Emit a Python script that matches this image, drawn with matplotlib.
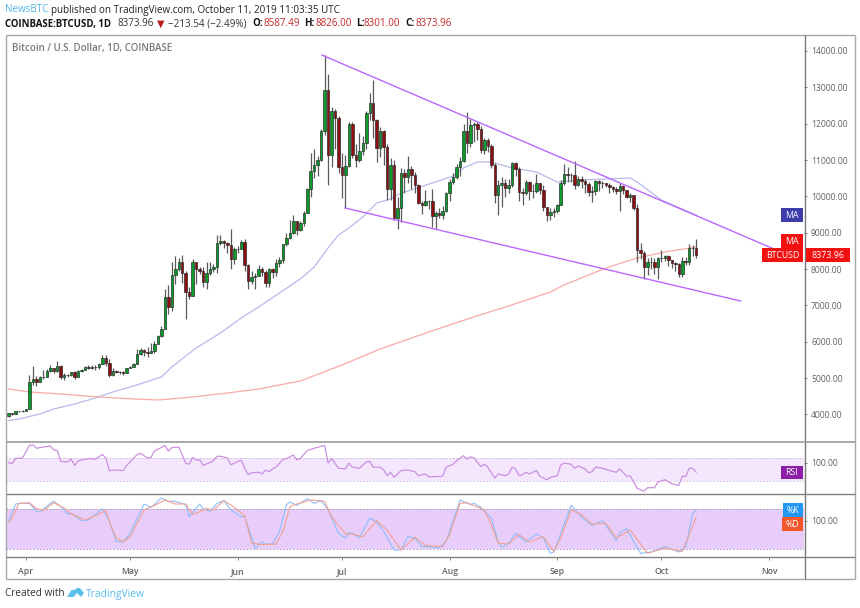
import matplotlib
matplotlib.use("Agg")
import matplotlib.pyplot as plt
from matplotlib.patches import Rectangle, Polygon
from matplotlib.lines import Line2D

plt.rcParams['font.family'] = ['Open Sans', 'DejaVu Sans']

W, H = 860, 608

# ---- candle data, day 0 = 1 Apr 2019, first candle 27 Mar
first_open = 3950
mar_c = [4030, 4020, 4090, 4090, 4100]
mar_h = [4040, 4040, 4100, 4105, 4110]
mar_l = [3940, 3990, 4010, 4060, 4080]
apr_c = [4140, 4900, 4970, 4905, 5040, 5045, 5190, 5280, 5190, 5330, 5040, 5085, 5075, 5165, 5040, 5205, 5235, 5295, 5280, 5320, 5295, 5400, 5560, 5430, 5090, 5190, 5170, 5170, 5150, 5270]
apr_h = [4160, 5080, 5345, 5060, 5060, 5220, 5260, 5350, 5290, 5470, 5350, 5130, 5120, 5180, 5200, 5230, 5260, 5340, 5360, 5350, 5360, 5420, 5640, 5640, 5530, 5280, 5220, 5200, 5210, 5290]
apr_l = [4100, 4140, 4800, 4780, 4890, 4990, 5040, 5170, 5150, 5170, 4970, 4950, 5030, 5050, 4990, 5030, 5180, 5230, 5250, 5260, 5230, 5240, 5380, 5340, 5020, 5050, 5130, 5120, 5100, 5135]
may_c = [5320, 5400, 5660, 5780, 5720, 5690, 5750, 5940, 6150, 6350, 7230, 6960, 7840, 8000, 8190, 7900, 7380, 7260, 8190, 7990, 7940, 7640, 7880, 7990, 8060, 8730, 8780, 8720, 8660, 8270, 8550]
may_h = [5340, 5420, 5800, 5840, 5790, 5850, 5960, 6030, 6180, 6430, 7450, 7550, 8200, 8360, 8300, 8390, 7950, 7500, 8290, 8190, 8050, 8060, 8200, 8200, 8150, 8930, 8950, 8810, 8750, 9100, 8600]
may_l = [5280, 5300, 5390, 5640, 5600, 5580, 5680, 5700, 5930, 6140, 6350, 6770, 6850, 7600, 7950, 7620, 6630, 7170, 7260, 7600, 7860, 7500, 7460, 7830, 7930, 7900, 8670, 8590, 8450, 8000, 8150]
jun_c = [8560, 8740, 8100, 7670, 7790, 7800, 8000, 7930, 7630, 8000, 7920, 8160, 8240, 8690, 8860, 8990, 9320, 9080, 9270, 9550, 10200, 10700, 10850, 11000, 11800, 12930, 11140, 12350, 12150, 10800]
jun_h = [8630, 8810, 8820, 8150, 7950, 7880, 8100, 8050, 7970, 8040, 8030, 8280, 8320, 8700, 8980, 9350, 9480, 9330, 9310, 9600, 10240, 11200, 11300, 11100, 11850, 13880, 13370, 12450, 12400, 12200]
jun_l = [8450, 8540, 7960, 7450, 7580, 7450, 7800, 7820, 7510, 7500, 7760, 7820, 8070, 8160, 8640, 8830, 8960, 8930, 9040, 9180, 9540, 9980, 10500, 10550, 10960, 11700, 10300, 10800, 11300, 10650]
jul_c = [10600, 10830, 12000, 11140, 11000, 11250, 11470, 12290, 12570, 12100, 11330, 11800, 11350, 10190, 10860, 9410, 9670, 10640, 10530, 10760, 10590, 10320, 9830, 9770, 9880, 9860, 9470, 9530, 9500, 9590, 10080]
jul_h = [11200, 11130, 12050, 12060, 11450, 11750, 11650, 12360, 12840, 13200, 12120, 11900, 11830, 11450, 11050, 11000, 9980, 10780, 10750, 11100, 10830, 10660, 10340, 9880, 10170, 9900, 10190, 9590, 9690, 9730, 10130]
jul_l = [9950, 9680, 10800, 11050, 10800, 10950, 11150, 11300, 12100, 11600, 10950, 11080, 10850, 9900, 9900, 9350, 9100, 9300, 10100, 10370, 10200, 10100, 9800, 9520, 9730, 9650, 9150, 9100, 9400, 9390, 9570]
aug_c = [10400, 10530, 10820, 10970, 11810, 11470, 11970, 11990, 11860, 11290, 11550, 11400, 10860, 10040, 10300, 10360, 10230, 10320, 10910, 10760, 10130, 10100, 10400, 10140, 10140, 10370, 10170, 9720, 9500, 9580, 9600]
aug_h = [10480, 10650, 10900, 11080, 12000, 12330, 12130, 12050, 12040, 11930, 11600, 11600, 11450, 10920, 10450, 10530, 10470, 10470, 10950, 10950, 10800, 10220, 10450, 10420, 10350, 10620, 10380, 10300, 9720, 9690, 9670]
aug_l = [9870, 10330, 10480, 10550, 10950, 11200, 11350, 11500, 11550, 11200, 11180, 11220, 10780, 9820, 9500, 9700, 9980, 10100, 10250, 10570, 9860, 9750, 10050, 9900, 9950, 10100, 10060, 9600, 9330, 9350, 9430]
sep_c = [9770, 10380, 10620, 10590, 10580, 10320, 10490, 10410, 10340, 10120, 10160, 10420, 10370, 10360, 10310, 10270, 10190, 10160, 10280, 10170, 9990, 10030, 9690, 8530, 8440, 8070, 8190, 8200, 8060, 8310]
sep_h = [9800, 10450, 10900, 10800, 10650, 10960, 10560, 10560, 10480, 10390, 10290, 10450, 10450, 10420, 10380, 10380, 10290, 10260, 10360, 10300, 10180, 10080, 10050, 9800, 8730, 8490, 8300, 8320, 8300, 8320]
sep_l = [9550, 9760, 10300, 10400, 10400, 10200, 10290, 10240, 10080, 10010, 9850, 10050, 10150, 10230, 10270, 10080, 10120, 10070, 9590, 10070, 9950, 9850, 9620, 8200, 8270, 7720, 7850, 8000, 7860, 7730]
oct_c = [8310, 8370, 8240, 8160, 8140, 7860, 8210, 8190, 8590, 8587.49, 8373.96]
oct_h = [8520, 8400, 8390, 8240, 8200, 8160, 8320, 8340, 8680, 8650, 8826]
oct_l = [8200, 8230, 8080, 8020, 7960, 7770, 7780, 8110, 8110, 8370, 8301]

closes = mar_c + apr_c + may_c + jun_c + jul_c + aug_c + sep_c + oct_c
highs = mar_h + apr_h + may_h + jun_h + jul_h + aug_h + sep_h + oct_h
lows = mar_l + apr_l + may_l + jun_l + jul_l + aug_l + sep_l + oct_l
opens = [first_open] + closes[:-1]
days = list(range(-5, -5 + len(closes)))

# ---- moving averages (day, price)
ma50_d = [-5, -2, 4, 8, 14, 19, 25, 31, 39, 42, 49, 56, 62, 67, 79, 83, 87, 90, 93, 97, 101, 105, 108, 111, 117, 123, 126, 130, 134, 139, 147, 153, 160, 167, 174, 176, 183, 193]
ma50_v = [3830, 3876, 4014, 4152, 4289, 4427, 4620, 4784, 5032, 5307, 5830, 6242, 6655, 6957, 7728, 8058, 8580, 8938, 9131, 9433, 9818, 9928, 10094, 10176, 10369, 10561, 10781, 10946, 10946, 10809, 10671, 10396, 10451, 10479, 10506, 10396, 9900, 9488]
ma200_d = [-5, 1, 10, 21, 31, 38, 46, 58, 67, 79, 91, 102, 116, 128, 139, 151, 155, 167, 176, 184, 193]
ma200_v = [4702, 4619, 4564, 4482, 4427, 4399, 4462, 4591, 4702, 4922, 5362, 5802, 6270, 6655, 6985, 7370, 7563, 8030, 8305, 8470, 8608]

# ---- channel lines (day, price)
upper_d = [85.2, 215.4]
upper_v = [13890, 8553]
lower_d = [91.9, 205.8]
lower_v = [9681, 7122]

# ---- RSI
rsi_d = [-5, -4, -3, -1, 1, 2, 3, 6, 7, 8, 9, 10, 12, 13, 14, 15, 18, 20, 22, 23, 24, 26, 28, 29, 30, 32, 33, 35, 36, 37, 40, 41, 42, 44, 46, 47, 48, 49, 50, 51, 53, 54, 55, 56, 58, 59, 61, 62, 63, 64, 65, 67, 68, 69, 70, 71, 72, 74, 75, 77, 78, 79, 81, 83, 86, 87, 88, 90, 92, 93, 94, 96, 98, 99, 100, 102, 103, 104, 105, 106, 108, 110, 112, 113, 115, 116, 120, 121, 123, 124, 126, 127, 128, 129, 131, 132, 133, 135, 136, 138, 139, 140, 141, 142, 143, 144, 145, 147, 148, 150, 151, 153, 154, 155, 157, 158, 159, 161, 162, 163, 164, 166, 168, 170, 171, 173, 174, 176, 178, 179, 181, 182, 184, 186, 188, 189, 190, 191, 192, 193]
rsi_v = [62, 60, 69, 70, 92, 93, 87, 90, 91, 84, 83, 64, 63, 68, 57, 65, 69, 68, 76, 70, 48, 49, 48, 57, 63, 76, 78, 70, 71, 82, 92, 82, 88, 89, 61, 59, 71, 66, 67, 57, 62, 65, 73, 73, 70, 58, 64, 66, 52, 41, 44, 45, 42, 49, 46, 51, 54, 67, 69, 75, 67, 69, 83, 87, 92, 61, 69, 52, 51, 61, 54, 52, 63, 64, 54, 54, 49, 39, 45, 36, 48, 49, 46, 39, 42, 37, 38, 54, 59, 65, 74, 68, 72, 70, 55, 59, 54, 35, 42, 39, 42, 54, 51, 39, 41, 45, 42, 48, 38, 32, 36, 39, 58, 61, 59, 52, 56, 51, 44, 46, 54, 52, 48, 45, 51, 38, 39, 17, 12, 18, 18, 28, 32, 25, 22, 38, 38, 52, 52, 45]

# ---- Stochastic
k_d = [-5, -3, -2, 1, 3, 4, 7, 8, 10, 12, 13, 16, 18, 20, 22, 24, 26, 28, 30, 34, 36, 39, 41, 43, 46, 47, 50, 51, 53, 55, 57, 59, 62, 63, 66, 68, 69, 71, 73, 75, 76, 78, 81, 83, 85, 87, 90, 92, 93, 94, 96, 99, 101, 103, 106, 108, 110, 112, 114, 116, 119, 121, 125, 128, 129, 131, 134, 136, 137, 139, 141, 144, 147, 149, 151, 152, 157, 159, 160, 163, 166, 170, 171, 173, 175, 177, 180, 184, 188, 190, 192, 193]
k_v = [61, 87, 88, 88, 76, 75, 88, 91, 83, 72, 73, 62, 63, 71, 80, 61, 31, 30, 43, 87, 82, 96, 91, 91, 86, 68, 87, 80, 76, 88, 92, 78, 68, 68, 20, 30, 27, 27, 46, 86, 90, 85, 95, 88, 92, 78, 43, 36, 44, 43, 36, 66, 60, 46, 18, 18, 38, 36, 23, 23, 21, 31, 93, 86, 88, 82, 66, 30, 22, 28, 43, 30, 42, 36, 13, 15, 85, 73, 67, 55, 62, 32, 44, 50, 31, 13, 15, 23, 15, 23, 73, 78]
d_d = [-5, -4, -2, 1, 3, 5, 8, 11, 13, 17, 19, 23, 24, 26, 28, 30, 34, 37, 40, 43, 46, 48, 52, 54, 57, 60, 63, 65, 68, 72, 74, 76, 78, 82, 86, 88, 92, 94, 97, 101, 104, 108, 112, 115, 120, 122, 125, 127, 132, 134, 136, 139, 142, 145, 149, 152, 154, 157, 160, 163, 167, 170, 174, 179, 184, 189, 191, 193]
d_v = [60, 66, 88, 89, 80, 77, 89, 81, 72, 63, 67, 77, 61, 36, 30, 38, 78, 85, 93, 87, 87, 71, 80, 78, 92, 82, 69, 28, 26, 27, 46, 83, 87, 93, 91, 68, 42, 42, 38, 62, 48, 18, 37, 25, 23, 41, 88, 89, 78, 56, 28, 27, 41, 30, 38, 16, 36, 78, 71, 57, 58, 36, 48, 13, 21, 16, 41, 68]

# ---- tick text
price_ticks = [4000, 5000, 6000, 7000, 8000, 9000, 10000, 11000, 12000, 13000, 14000]
month_days = [0, 30, 61, 91, 122, 153, 183, 214]
month_labels = ['Apr', 'May', 'Jun', 'Jul', 'Aug', 'Sep', 'Oct', 'Nov']
XLIM = (-5.9, 224.2)

GRAY = '#5f6368'
fig = plt.figure(figsize=(W / 100, H / 100), dpi=100, facecolor='white')


def pane(top, bottom, left=5.5, right=804.5):
    return fig.add_axes([left / W, 1 - bottom / H, (right - left) / W, (bottom - top) / H])


def fx(x):
    return x / W


def fy(y):
    return 1 - y / H


def fline(x0, y0, x1, y1, color, lw):
    fig.add_artist(Line2D([fx(x0), fx(x1)], [fy(y0), fy(y1)], color=color, lw=lw, solid_capstyle='butt', zorder=6))


def box(x0, y0, x1, y1, color, text, fs=6.3):
    fig.add_artist(Rectangle((fx(x0), fy(y1)), (x1 - x0) / W, (y1 - y0) / H, transform=fig.transFigure,
                             facecolor=color, edgecolor='none', zorder=7))
    fig.text(fx((x0 + x1) / 2), fy((y0 + y1) / 2 + 0.3), text, color='white', fontsize=fs, ha='center', va='center', zorder=8)


def txt(x, y, s, color='#222222', fs=7.1, weight='normal'):
    fig.text(fx(x), fy(y), s, color=color, fontsize=fs, fontweight=weight, ha='left', va='center')


# ---- price pane
ax = pane(35, 441.5)
ax.set_xlim(*XLIM)
ax.set_ylim(3257, 14440)
ax.plot(ma50_d, ma50_v, color='#b9b9ec', lw=0.9, zorder=2)
ax.plot(ma200_d, ma200_v, color='#f9aaa7', lw=0.9, zorder=2)
for d, o, h, l, c in zip(days, opens, highs, lows, closes):
    up = c >= o
    ax.vlines(d, min(l, o, c), max(h, o, c), color='#5a5a5a', lw=0.9, zorder=3)
    ax.bar(d, abs(c - o), bottom=min(o, c), width=0.72, color='#0b9a2a' if up else '#8e0f0f',
           edgecolor='#222222', linewidth=0.45, zorder=4)
ax.plot(upper_d, upper_v, color='#bb66ff', lw=1.0, zorder=5)
ax.plot(lower_d, lower_v, color='#bb66ff', lw=1.0, zorder=5)
ax.set_yticks(price_ticks)
ax.set_yticklabels([f'{p:.2f}' for p in price_ticks])

# ---- RSI pane
ax2 = pane(441.5, 494)
ax2.set_xlim(*XLIM)
ax2.set_ylim(7, 98.8)
ax2.axhspan(30, 70, color='#f4e6fd', lw=0)
for v in (30, 70):
    ax2.axhline(v, color='#cdb8d8', lw=0.6, ls=(0, (2, 2)))
ax2.plot(rsi_d, rsi_v, color='#c98bde', lw=0.85)
ax2.set_yticks([62])
ax2.set_yticklabels(['100.00'])

# ---- Stochastic pane
ax3 = pane(494, 557)
ax3.set_xlim(*XLIM)
ax3.set_ylim(7.5, 102)
ax3.axhspan(20, 80, color='#e8cdfb', lw=0)
for v in (20, 80):
    ax3.axhline(v, color='#a592b5', lw=0.6, ls=(0, (2, 2)))
ax3.plot(k_d, k_v, color='#8dbdfb', lw=0.8)
ax3.plot(d_d, d_v, color='#f2a08f', lw=0.8)
ax3.set_yticks([62])
ax3.set_yticklabels(['100.00'])

# ---- time axis
ax4 = pane(557, 579)
ax4.set_xlim(*XLIM)
ax4.set_ylim(0, 1)
ax4.set_yticks([])
ax4.set_xticks(month_days)
ax4.set_xticklabels(month_labels, fontsize=6.2, fontweight='semibold', color=GRAY)
ax4.xaxis.tick_top()
ax4.tick_params(axis='x', direction='in', length=2.2, width=0.7, color='#888888', pad=-13.5)

for a in (ax, ax2, ax3, ax4):
    for s in a.spines.values():
        s.set_visible(False)
    a.patch.set_alpha(0)
for a in (ax, ax2, ax3):
    a.set_xticks([])
    a.yaxis.tick_right()
    a.tick_params(axis='y', direction='out', length=2.2, width=0.7, color='#777777', pad=2.5,
                  labelsize=6.2, labelcolor=GRAY)

# ---- frame
fline(5.5, 35, 855, 35, '#a8a8a8', 1.0)
fline(5.5, 35, 5.5, 579, '#a8a8a8', 1.0)
fline(855, 35, 855, 579, '#a8a8a8', 1.0)
fline(5.5, 579, 855, 579, '#a8a8a8', 1.0)
fline(804.5, 35, 804.5, 579, '#777777', 1.0)
fline(5.5, 441.5, 855, 441.5, '#a8a8a8', 1.4)
fline(5.5, 494, 855, 494, '#808080', 1.0)
fline(5.5, 557, 855, 557, '#808080', 1.0)

# ---- value labels
box(781, 208, 803, 222, '#3c3cab', 'MA')
box(781, 234, 803, 248, '#f21111', 'MA')
box(762, 248, 803, 262, '#f21111', 'BTCUSD')
box(805.5, 248, 850, 262, '#f21111', '8373.96', fs=6.4)
box(781, 466, 803, 479, '#8d1ea8', 'RSI')
box(783, 503, 803, 517, '#2196f3', '%K')
box(782, 517, 803, 531, '#f4572b', '%D')

# ---- header
txt(5, 10, 'NewsBTC', '#4db6e9')
txt(51, 10, 'published on TradingView.com, October 11, 2019 11:03:35 UTC')
txt(5, 24, 'COINBASE:BTCUSD, 1D', '#111111', weight='bold', fs=6.9)
txt(117, 24, '8373.96', '#333333')
txt(156.5, 24, '\u25bc', '#b71c1c', fs=7)
txt(168, 24, '\u2212213.54 (\u22122.49%)', '#333333')
txt(252, 24, 'O:', '#111111', weight='bold')
txt(263, 24, '8587.49', '#c62828')
txt(304, 24, 'H:', '#111111', weight='bold')
txt(315, 24, '8826.00', '#c62828')
txt(356, 24, 'L:', '#111111', weight='bold')
txt(364, 24, '8301.00', '#c62828')
txt(405, 24, 'C:', '#111111', weight='bold')
txt(415, 24, '8373.96', '#c62828')
txt(12, 49, 'Bitcoin / U.S. Dollar, 1D, COINBASE', '#7a7a7a', fs=7.0, weight='semibold')

# ---- footer
txt(5, 594, 'Created with', '#333333', fs=7.2)
txt(86, 594, 'TradingView', '#58bdec', fs=7.4)
logo = [(67, 597), (71.5, 590), (74.5, 590), (77, 588), (80, 588), (84, 593), (81, 597), (77, 593), (73.5, 597)]
fig.add_artist(Polygon([(fx(x), fy(y)) for x, y in logo], closed=True, transform=fig.transFigure,
                       facecolor='#5cc0ea', edgecolor='none'))

fig.savefig('out.png', dpi=100, facecolor='white')
